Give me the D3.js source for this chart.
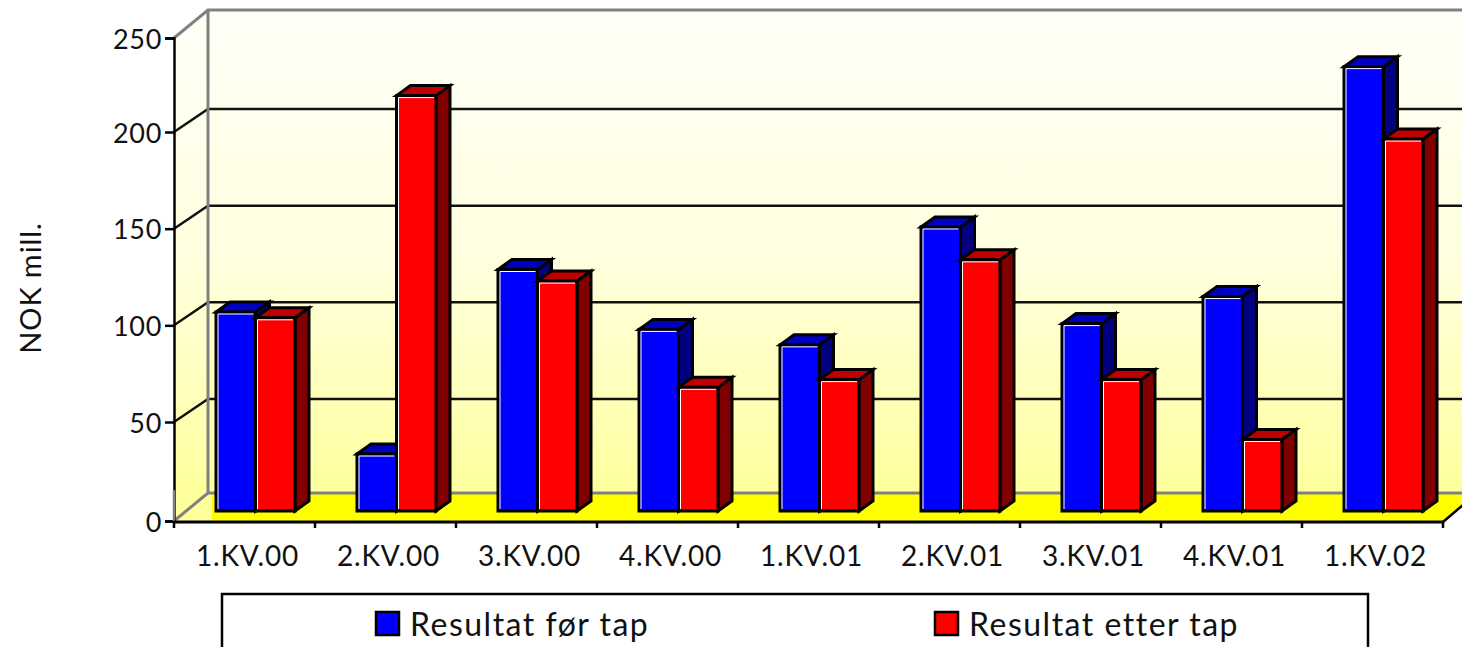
<!DOCTYPE html>
<meta charset="utf-8">
<title>Resultat</title>
<style>
  body { margin: 0; background: #fff; overflow: hidden; }
  text { font-family: Lato, "Open Sans", sans-serif; fill: #111; }
</style>
<script src="https://d3js.org/d3.v7.min.js"></script>
<div id="chart"></div>
<script>
    // values
    var categories = ["1.KV.00", "2.KV.00", "3.KV.00", "4.KV.00", "1.KV.01", "2.KV.01", "3.KV.01", "4.KV.01", "1.KV.02"];
    var seriesNames = ["Resultat før tap", "Resultat etter tap"];
    var resultatFor = [103, 29.5, 125, 94, 86, 147, 97, 111, 230];
    var resultatEtter = [100, 215, 119, 64, 68, 130, 68, 37, 192.5];
    var yTicks = [0, 50, 100, 150, 200, 250];
    var gridTicks = [50, 100, 150, 200];

    var width = 1462, height = 647;
    var depthX = 34;                // wall offset
    var barDX = 14, barDY = 10;     // bar depth

    var svg = d3.select("#chart").append("svg")
        .attr("width", width).attr("height", height)
        .style("display", "block");

    var x = d3.scaleBand().domain(categories).range([174, 1443]);
    var xSeries = d3.scaleBand().domain([0, 1]).range([42, 121]);
    // front plane and back wall are not quite even in the original
    var y = d3.scaleLinear().domain([0, 50, 200, 250]).range([521, 422, 132, 38]);
    var yBack = d3.scaleLinear().domain([0, 50, 200, 250]).range([493, 399, 109, 10]);
    var yBar = d3.scaleLinear().domain([0, 250]).range([511, 28]);

    var defs = svg.append("defs");
    var grad = defs.append("linearGradient").attr("id", "wall")
        .attr("gradientUnits", "userSpaceOnUse")
        .attr("x1", 0).attr("x2", 0).attr("y1", 10).attr("y2", 500);
    grad.append("stop").attr("offset", 0).attr("stop-color", "#fffff8");
    grad.append("stop").attr("offset", 0.5).attr("stop-color", "#ffffe0");
    grad.append("stop").attr("offset", 1).attr("stop-color", "#ffff9c");

    // walls
    svg.append("path")
        .attr("d", "M174," + y(250) + "L208," + yBack(250) + "H" + width + "V" + yBack(0) + "H212V" + y(0) + "H174Z")
        .attr("fill", "url(#wall)");

    // floor
    svg.append("path")
        .attr("d", "M212," + yBack(0) + "H" + (1443 + depthX) + "L1443," + y(0) + "H212Z")
        .attr("fill", "#ffff00");

    // grid
    svg.selectAll(".grid").data(gridTicks).enter().append("path")
        .attr("class", "grid")
        .attr("d", function(d) { return "M174," + y(d) + "L208," + yBack(d) + "H" + width; })
        .attr("fill", "none").attr("stroke", "#111").attr("stroke-width", 2.5);

    // gray frame
    svg.append("path")
        .attr("d", "M174," + y(250) + "L208," + yBack(250) + "H" + width)
        .attr("fill", "none").attr("stroke", "#808080").attr("stroke-width", 3);
    svg.append("path")
        .attr("d", "M174," + y(0) + "L208," + yBack(0) + "V" + yBack(250))
        .attr("fill", "none").attr("stroke", "#808080").attr("stroke-width", 3);
    svg.append("path")
        .attr("d", "M208," + yBack(0) + "H" + width)
        .attr("fill", "none").attr("stroke", "#808080").attr("stroke-width", 3);

    // bars
    var palette = [
        {front: "#0000ff", top: "#0000c0", side: "#000080"},
        {front: "#ff0000", top: "#c00000", side: "#800000"}
    ];
    var rows = [];
    categories.forEach(function(c, i) {
        rows.push({cat: c, s: 0, v: resultatFor[i]});
        rows.push({cat: c, s: 1, v: resultatEtter[i]});
    });

    var bar = svg.selectAll(".bar").data(rows).enter().append("g")
        .attr("class", "bar")
        .attr("stroke", "#000").attr("stroke-width", 3).attr("stroke-linejoin", "miter");

    function bx(d) { return x(d.cat) + xSeries(d.s); }
    var bw = xSeries.bandwidth();

    bar.append("path")
        .attr("fill", function(d) { return palette[d.s].side; })
        .attr("d", function(d) {
            var r = bx(d) + bw;
            return "M" + r + "," + yBar(d.v) + "l" + barDX + "," + (-barDY) + "V" + (yBar(0) - barDY) + "l" + (-barDX) + "," + barDY + "Z";
        });
    bar.append("path")
        .attr("fill", function(d) { return palette[d.s].top; })
        .attr("d", function(d) {
            return "M" + bx(d) + "," + yBar(d.v) + "l" + barDX + "," + (-barDY) + "h" + bw + "l" + (-barDX) + "," + barDY + "Z";
        });
    bar.append("rect")
        .attr("fill", function(d) { return palette[d.s].front; })
        .attr("x", bx)
        .attr("y", function(d) { return yBar(d.v); })
        .attr("width", bw)
        .attr("height", function(d) { return yBar(0) - yBar(d.v); });
    // white highlight inside the front face
    bar.append("path")
        .attr("fill", "none").attr("stroke", "#fff").attr("stroke-width", 1)
        .attr("d", function(d) {
            return "M" + (bx(d) + 2) + "," + (yBar(0) - 2) + "V" + (yBar(d.v) + 2) + "H" + (bx(d) + bw - 2);
        });

    // axes
    var yAxis = d3.axisLeft(y).tickValues(yTicks).tickSize(9).tickPadding(3);
    var gy = svg.append("g").attr("transform", "translate(174,0)").call(yAxis);
    gy.selectAll("text").style("font-size", "27px").style("letter-spacing", "0.7px").attr("dy", "0.38em");
    gy.selectAll("line").attr("stroke", "#000").attr("stroke-width", 2.5);
    gy.select(".domain").attr("stroke", "#000").attr("stroke-width", 2.5);
    svg.append("line").attr("x1", 174).attr("x2", 174).attr("y1", 490).attr("y2", 521)
        .attr("stroke", "#808080").attr("stroke-width", 2.5);

    var xAxis = d3.axisBottom(x).tickSize(0).tickPadding(25);
    var gx = svg.append("g").attr("transform", "translate(3," + y(0) + ")").call(xAxis);
    gx.selectAll("text").style("font-size", "28px").style("letter-spacing", "0.8px");
    gx.select(".domain").remove();

    svg.append("line").attr("x1", 174).attr("x2", 1443).attr("y1", y(0) + 1).attr("y2", y(0) + 1)
        .attr("stroke", "#000").attr("stroke-width", 3);
    svg.append("line").attr("x1", 1443).attr("y1", y(0) + 1).attr("x2", 1443 + depthX).attr("y2", yBack(0))
        .attr("stroke", "#000").attr("stroke-width", 2.5);
    svg.selectAll(".xtick").data(categories.concat("end")).enter().append("line")
        .attr("class", "xtick")
        .attr("x1", function(d) { return d === "end" ? 1443 : x(d); })
        .attr("x2", function(d) { return d === "end" ? 1443 : x(d); })
        .attr("y1", y(0)).attr("y2", y(0) + 7)
        .attr("stroke", "#000").attr("stroke-width", 2.5);

    // axis title
    svg.append("text")
        .attr("transform", "translate(41,288) rotate(-90)")
        .attr("text-anchor", "middle")
        .style("font-size", "29px")
        .style("letter-spacing", "0.9px")
        .text("NOK mill.");

    // legend
    svg.append("rect")
        .attr("x", 222).attr("y", 594).attr("width", 1146).attr("height", 70)
        .attr("fill", "#fff").attr("stroke", "#000").attr("stroke-width", 2.5);
    var legendX = d3.scaleOrdinal().domain([0, 1]).range([376, 935]);
    var leg = svg.selectAll(".leg").data(seriesNames).enter().append("g")
        .attr("class", "leg")
        .attr("transform", function(d, i) { return "translate(" + legendX(i) + ",612)"; });
    leg.append("rect")
        .attr("width", 23).attr("height", 23)
        .attr("fill", function(d, i) { return palette[i].front; })
        .attr("stroke", "#000").attr("stroke-width", 2.5);
    leg.append("text")
        .attr("x", 34).attr("y", 24)
        .style("font-size", "32px")
        .style("letter-spacing", "1.5px")
        .text(function(d) { return d; });
</script>
